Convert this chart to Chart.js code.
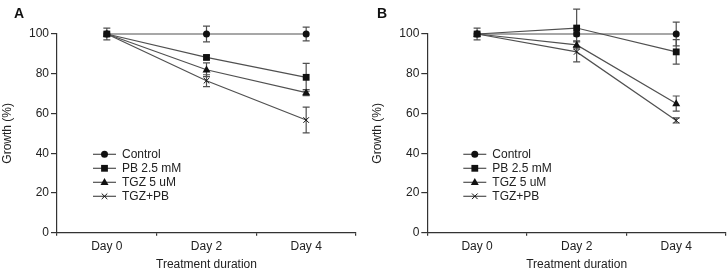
<!DOCTYPE html>
<html>
<head>
<meta charset="utf-8">
<script src="https://cdn.jsdelivr.net/npm/chart.js@4/dist/chart.umd.min.js"></script>
<style>
  body { margin: 0; background: #fff; }
  #wrap { position: relative; width: 728px; height: 272px; }
  .panel { position: absolute; top: 0; height: 272px; }
</style>
</head>
<body>
<div id="wrap">
  <div class="panel" style="left:0;width:364px"><canvas id="chartA"></canvas></div>
  <div class="panel" style="left:370px;width:358px"><canvas id="chartB"></canvas></div>
</div>
<script>
// Categories and tick labels
const days = ['Day 0', 'Day 2', 'Day 4'];
const yTicks = [0, 20, 40, 60, 80, 100];
const seriesNames = ['Control', 'PB 2.5 mM', 'TGZ 5 uM', 'TGZ+PB'];

// Panel A values (growth %) and error bars
const controlA = [100, 100, 100];
const controlErrA = [3, 4, 3.5];
const pbA = [100, 88.2, 78.2];
const pbErrA = [0, 1, 7];
const tgzA = [100, 82, 70.5];
const tgzErrA = [0, 3.5, 1.5];
const comboA = [100, 76.5, 56.7];
const comboErrA = [0, 3, 6.5];

// Panel B values (growth %) and error bars
const controlB = [100, 100, 100];
const controlErrB = [3, 1, 6];
const pbB = [100, 103, 91];
const pbErrB = [0, 9.5, 6.2];
const tgzB = [100, 94.5, 65];
const tgzErrB = [0, 2, 3.8];
const comboB = [100, 91, 56.5];
const comboErrB = [0, 5, 1.3];

const FONT = '"Liberation Sans", Arial, sans-serif';
const LINE = '#505050';
const MARK = '#111';
const markerStyles = [
  { pointStyle: 'circle', radius: 3.5 },
  { pointStyle: 'rect', radius: 4 },
  { pointStyle: 'triangle', radius: 4.2 },
  { pointStyle: 'crossRot', radius: 2.8 }
];

function drawMarker(ctx, style, x, y) {
  ctx.save();
  ctx.fillStyle = MARK;
  ctx.strokeStyle = MARK;
  ctx.lineWidth = 1;
  const r = style.radius;
  ctx.beginPath();
  if (style.pointStyle === 'circle') {
    ctx.arc(x, y, r, 0, Math.PI * 2);
    ctx.fill();
  } else if (style.pointStyle === 'rect') {
    ctx.rect(x - r * 0.85, y - r * 0.85, r * 1.7, r * 1.7);
    ctx.fill();
  } else if (style.pointStyle === 'triangle') {
    ctx.moveTo(x, y - r);
    ctx.lineTo(x + r * 0.95, y + r * 0.65);
    ctx.lineTo(x - r * 0.95, y + r * 0.65);
    ctx.closePath();
    ctx.fill();
  } else {
    ctx.moveTo(x - r, y - r); ctx.lineTo(x + r, y + r);
    ctx.moveTo(x - r, y + r); ctx.lineTo(x + r, y - r);
    ctx.stroke();
  }
  ctx.restore();
}

// Error bars drawn from dataset.errors through the y scale
const errorBars = {
  id: 'errorBars',
  beforeDatasetsDraw(chart) {
    const ctx = chart.ctx;
    const y = chart.scales.y;
    ctx.save();
    ctx.strokeStyle = LINE;
    ctx.lineWidth = 1.2;
    chart.data.datasets.forEach((ds, i) => {
      const meta = chart.getDatasetMeta(i);
      meta.data.forEach((pt, j) => {
        const e = ds.errors[j];
        if (!e) return;
        const top = y.getPixelForValue(ds.data[j] + e);
        const bot = y.getPixelForValue(ds.data[j] - e);
        ctx.beginPath();
        ctx.moveTo(pt.x, top); ctx.lineTo(pt.x, bot);
        ctx.moveTo(pt.x - 3.5, top); ctx.lineTo(pt.x + 3.5, top);
        ctx.moveTo(pt.x - 3.5, bot); ctx.lineTo(pt.x + 3.5, bot);
        ctx.stroke();
      });
    });
    ctx.restore();
  },
  afterDatasetsDraw(chart) {
    const ctx = chart.ctx;
    chart.data.datasets.forEach((ds, i) => {
      chart.getDatasetMeta(i).data.forEach(pt => drawMarker(ctx, markerStyles[i], pt.x, pt.y));
    });
  }
};

// Inset legend and panel letter
const insetLegend = {
  id: 'insetLegend',
  afterDraw(chart, args, opts) {
    const ctx = chart.ctx;
    const left = chart.chartArea.left + 36;
    ctx.save();
    ctx.font = '12px ' + FONT;
    ctx.textBaseline = 'middle';
    chart.data.datasets.forEach((ds, i) => {
      const yy = 154.3 + i * 14;
      ctx.strokeStyle = LINE;
      ctx.lineWidth = 1.2;
      ctx.beginPath();
      ctx.moveTo(left, yy); ctx.lineTo(left + 23, yy);
      ctx.stroke();
      drawMarker(ctx, markerStyles[i], left + 11.5, yy);
      ctx.fillStyle = '#222';
      ctx.fillText(ds.label, left + 29, yy + 0.5);
    });
    ctx.font = 'bold 14px ' + FONT;
    ctx.fillStyle = '#111';
    ctx.fillText(opts.letter, opts.letterX, 14.5);
    ctx.restore();
  }
};

function makePanel(id, letter, letterX, values, errors, yWidth, padRight) {
  const datasets = seriesNames.map((name, i) => ({
    label: name,
    data: values[i],
    errors: errors[i],
    borderColor: LINE,
    borderWidth: 1.2,
    pointRadius: 0,
    tension: 0,
    clip: false
  }));
  return new Chart(document.getElementById(id), {
    type: 'line',
    data: { labels: days, datasets: datasets },
    plugins: [errorBars, insetLegend],
    options: {
      responsive: true,
      maintainAspectRatio: false,
      animation: false,
      layout: { padding: { top: 34, right: padRight, bottom: 0, left: 0 } },
      plugins: {
        legend: { display: false },
        tooltip: { enabled: false },
        insetLegend: { letter: letter, letterX: letterX }
      },
      scales: {
        x: {
          type: 'category',
          offset: true,
          afterFit: s => { s.height = 39.3; },
          grid: { offset: true, drawOnChartArea: false, tickLength: 3, color: '#333', lineWidth: 1.2 },
          border: { color: '#333', width: 1.2 },
          ticks: { color: '#222', font: { size: 12, family: FONT }, padding: 4 },
          title: { display: true, text: 'Treatment duration', color: '#222', font: { size: 12, family: FONT }, padding: 0 }
        },
        y: {
          min: 0,
          max: 100,
          afterFit: s => { s.width = yWidth; },
          afterBuildTicks: s => { s.ticks = yTicks.map(v => ({ value: v })); },
          grid: { drawOnChartArea: false, tickLength: 6, color: '#333', lineWidth: 1.2 },
          border: { color: '#333', width: 1.2 },
          ticks: { color: '#222', font: { size: 12, family: FONT }, padding: 2 },
          title: { display: true, text: 'Growth (%)', color: '#222', font: { size: 12, family: FONT }, padding: 0 }
        }
      }
    }
  });
}

makePanel('chartA', 'A', 14,
  [controlA, pbA, tgzA, comboA],
  [controlErrA, pbErrA, tgzErrA, comboErrA], 57, 8);
makePanel('chartB', 'B', 7,
  [controlB, pbB, tgzB, comboB],
  [controlErrB, pbErrB, tgzErrB, comboErrB], 57.3, 2);
</script>
</body>
</html>
